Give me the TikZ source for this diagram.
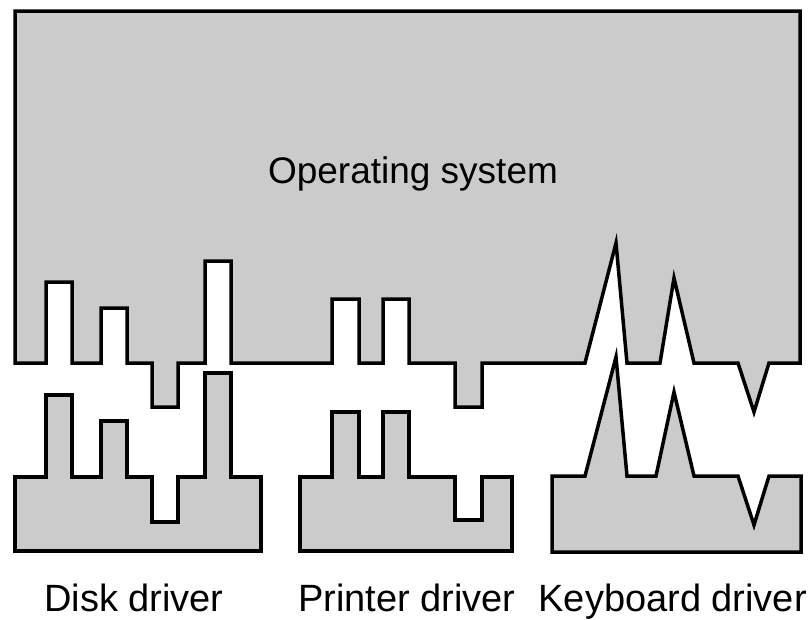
\documentclass[tikz,border=0pt]{standalone}
\usepackage{fontspec}
\setmainfont{Liberation Sans}
\definecolor{shade}{RGB}{203,203,203}
\begin{document}
\begin{tikzpicture}[x=1pt,y=-1pt,
  part/.style={draw=black,fill=shade,line width=3.5pt,line join=miter},
  lbl/.style={inner sep=0pt,font=\fontsize{38}{40}\selectfont},
  title/.style={inner sep=0pt,font=\fontsize{37}{40}\selectfont}]
\useasboundingbox (0,0) rectangle (809,619);
% operating system
\path[part] (15,11) -- (800,11) -- (800,363) -- (769,363) -- (754,412) -- (738,363)
  -- (694,363) -- (674,278) -- (660,363) -- (627,363) -- (616,243) -- (585,363)
  -- (482,363) -- (482,407) -- (455,407) -- (455,363) -- (409,363) -- (409,299)
  -- (383,299) -- (383,363) -- (359,363) -- (359,299) -- (332,299) -- (332,363)
  -- (231,363) -- (231,261) -- (205,261) -- (205,363) -- (178,363) -- (178,407)
  -- (152,407) -- (152,363) -- (127,363) -- (127,308) -- (101,308) -- (101,363)
  -- (72,363) -- (72,282) -- (46,282) -- (46,363) -- (15,363) -- cycle;
% disk driver
\path[part] (15,551) -- (15,477) -- (46,477) -- (46,395) -- (72,395) -- (72,477)
  -- (101,477) -- (101,421) -- (127,421) -- (127,477) -- (152,477) -- (152,522)
  -- (178,522) -- (178,477) -- (205,477) -- (205,373) -- (231,373) -- (231,477)
  -- (261,477) -- (261,551) -- cycle;
% printer driver
\path[part] (300,551) -- (300,477) -- (332,477) -- (332,412) -- (359,412) -- (359,477)
  -- (383,477) -- (383,412) -- (409,412) -- (409,477) -- (455,477) -- (455,520)
  -- (482,520) -- (482,477) -- (512,477) -- (512,551) -- cycle;
% keyboard driver
\path[part] (552,552) -- (552,476) -- (585,476) -- (616,357) -- (627,476) -- (656,476)
  -- (674,392) -- (694,476) -- (738,476) -- (754,525) -- (769,476) -- (801,476)
  -- (801,552) -- cycle;
\node[title,anchor=base] (os) at (413,183) {Operating system};
\node[lbl,anchor=base west] (disk) at (44,611) {Disk driver};
\node[lbl,anchor=base west] (printer) at (298,611) {Printer driver};
\node[lbl,anchor=base east] (keyboard) at (807,611) {Keyboard driver};
\end{tikzpicture}
\end{document}
